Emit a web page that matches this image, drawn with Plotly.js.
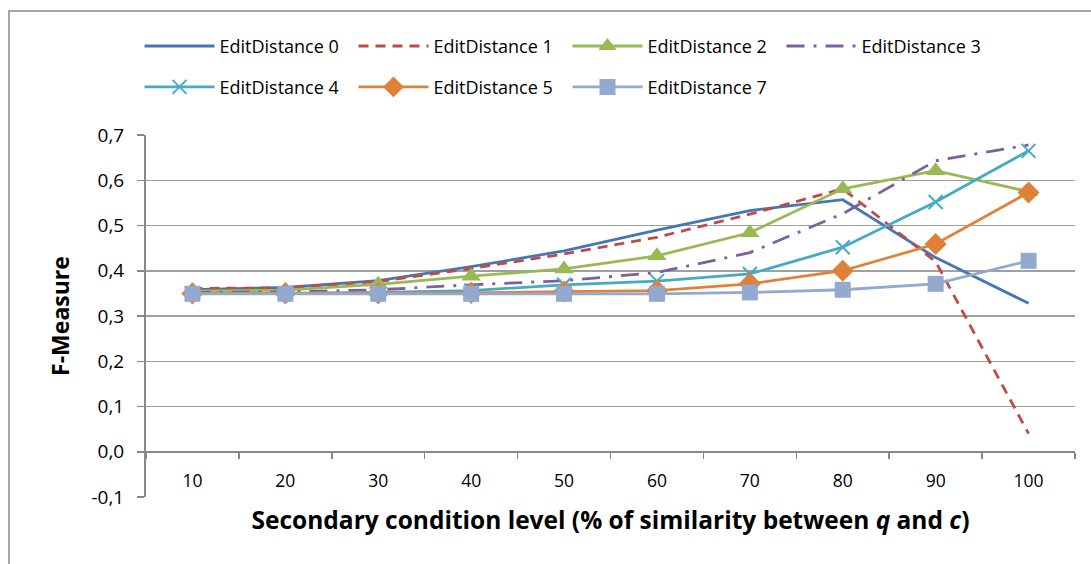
<!DOCTYPE html>
<html>
<head>
<meta charset="utf-8">
<script src="https://cdn.plot.ly/plotly-3.0.1.min.js"></script>
<style>
  html, body { margin: 0; padding: 0; background: #fff; }
  #wrap { position: relative; width: 1091px; height: 564px; }
  #chart { width: 1091px; height: 564px; }
  #frame { position: absolute; left: 8px; top: 10px; width: 1200px; height: 600px;
           border-top: 2px solid #a6a6a6; border-left: 2px solid #a6a6a6; pointer-events: none; }
</style>
</head>
<body>
<div id="wrap">
  <div id="chart"></div>
  <div id="frame"></div>
</div>
<script>
const categories = ['10', '20', '30', '40', '50', '60', '70', '80', '90', '100'];

const ed0 = [0.358, 0.363, 0.378, 0.409, 0.444, 0.490, 0.533, 0.557, 0.429, 0.328];
const ed1 = [0.361, 0.362, 0.376, 0.405, 0.437, 0.474, 0.525, 0.581, 0.420, 0.040];
const ed2 = [0.355, 0.357, 0.370, 0.388, 0.404, 0.433, 0.484, 0.581, 0.621, 0.575];
const ed3 = [0.352, 0.353, 0.358, 0.369, 0.378, 0.396, 0.440, 0.526, 0.643, 0.678];
const ed4 = [0.350, 0.350, 0.352, 0.356, 0.369, 0.377, 0.393, 0.452, 0.552, 0.665];
const ed5 = [0.350, 0.350, 0.350, 0.351, 0.354, 0.356, 0.371, 0.400, 0.459, 0.573];
const ed7 = [0.349, 0.349, 0.349, 0.349, 0.349, 0.349, 0.352, 0.358, 0.371, 0.422];

const seriesNames = ['EditDistance 0', 'EditDistance 1', 'EditDistance 2', 'EditDistance 3',
                     'EditDistance 4', 'EditDistance 5', 'EditDistance 7'];

const yTickVals = [-0.1, 0, 0.1, 0.2, 0.3, 0.4, 0.5, 0.6, 0.7];
const yTickText = ['-0,1', '0,0', '0,1', '0,2', '0,3', '0,4', '0,5', '0,6', '0,7'];

const FONT = '"Open Sans", Lato, "Liberation Sans", sans-serif';

function tr(y, name, color, dash, symbol, msize, legend) {
  const t = {
    x: categories, y: y, name: name, type: 'scatter',
    mode: symbol ? 'lines+markers' : 'lines',
    line: { color: color, width: 2.8, dash: dash },
    legend: legend
  };
  if (symbol) {
    t.marker = { symbol: symbol, size: msize, color: color,
                 line: { color: color, width: symbol.indexOf('x') === 0 ? 2 : 0 } };
  }
  return t;
}

const data = [
  tr(ed0, seriesNames[0], '#4676B5', 'solid', null, 0, 'legend'),
  tr(ed1, seriesNames[1], '#BE4B48', '10px,7px', null, 0, 'legend'),
  tr(ed2, seriesNames[2], '#98B954', 'solid', 'triangle-up', 17, 'legend'),
  tr(ed3, seriesNames[3], '#7D60A0', '18px,9px,3px,9px', null, 0, 'legend'),
  tr(ed4, seriesNames[4], '#46AAC5', 'solid', 'x-thin', 14, 'legend2'),
  tr(ed5, seriesNames[5], '#E0813A', 'solid', 'diamond', 17, 'legend2'),
  tr(ed7, seriesNames[6], '#93A9CF', 'solid', 'square', 16, 'legend2')
];

const legendCommon = {
  orientation: 'h', xanchor: 'left', yanchor: 'middle',
  font: { family: FONT, size: 18, color: '#000' },
  entrywidth: 129, entrywidthmode: 'pixels', itemwidth: 70,
  bgcolor: 'rgba(0,0,0,0)', traceorder: 'normal'
};

const layout = {
  width: 1091, height: 564,
  margin: { l: 146, r: 16, t: 135, b: 67 },
  paper_bgcolor: 'rgba(0,0,0,0)', plot_bgcolor: 'rgba(0,0,0,0)',
  font: { family: FONT, size: 16, color: '#000' },
  separators: ', ',
  showlegend: true,
  legend: Object.assign({}, legendCommon, { x: -0.007, y: 1.245 }),
  legend2: Object.assign({}, legendCommon, { x: -0.007, y: 1.132 }),
  xaxis: {
    type: 'category', anchor: 'free', position: 0.125,
    range: [-0.5, 9.5],
    tickson: 'boundaries', ticks: 'outside', ticklen: 6, tickcolor: '#888', tickwidth: 1.5,
    showline: true, linecolor: '#888', linewidth: 2,
    showgrid: false, zeroline: false,
    tickfont: { family: FONT, size: 17.5, color: '#000' },
    ticklabelstandoff: 13,
    title: { text: '<b>Secondary condition level (% of similarity between <i>q</i> and <i>c</i>)</b>',
             font: { family: FONT, size: 24.5, color: '#000' }, standoff: 20 }
  },
  yaxis: {
    range: [-0.1, 0.7],
    tickvals: yTickVals, ticktext: yTickText,
    ticks: 'outside', ticklen: 7, tickcolor: '#888', tickwidth: 1.5,
    showline: true, linecolor: '#888', linewidth: 2,
    showgrid: true, gridcolor: '#a0a0a0', gridwidth: 1.5,
    zeroline: false,
    tickfont: { family: FONT, size: 19, color: '#000' },
    ticklabelstandoff: 9,
    title: { text: '<b>F-Measure</b>', font: { family: FONT, size: 23, color: '#000' }, standoff: 15 }
  }
};

Plotly.newPlot('chart', data, layout, { displayModeBar: false, staticPlot: true });
</script>
</body>
</html>
